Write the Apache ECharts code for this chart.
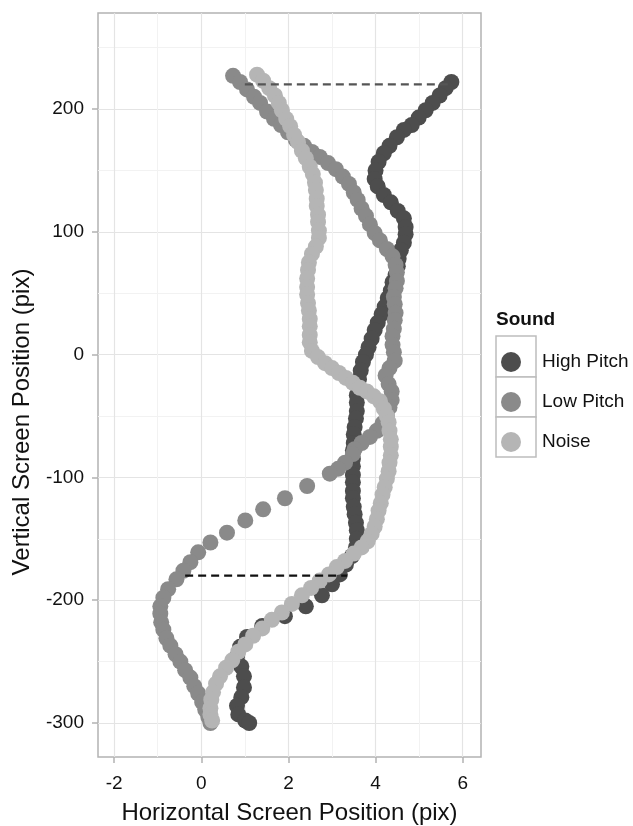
<!DOCTYPE html>
<html>
<head>
<meta charset="utf-8">
<script src="https://cdn.jsdelivr.net/npm/echarts@6/dist/echarts.min.js"></script>
<style>
  html, body { margin: 0; padding: 0; background: #fff; }
  #chart { width: 633px; height: 826px; }
</style>
</head>
<body>
<div id="chart"></div>
<script>
// trajectories: [horizontal, vertical]
const highPitch = [
  [5.74,222],[5.61,217],[5.47,211],[5.31,205],[5.15,199],[4.99,193],[4.83,187],[4.65,183],
  [4.49,177],[4.32,170],[4.19,164],[4.07,157],[4.00,150],[3.98,143],[4.05,137],[4.19,130],
  [4.35,124],[4.51,117],[4.65,111],[4.69,104],[4.69,98],[4.65,91],[4.58,85],[4.53,78],
  [4.51,72],[4.46,65],[4.39,59],[4.35,52],[4.28,46],[4.21,39],[4.14,33],[4.05,26],
  [3.98,20],[3.91,13],[3.84,6],[3.78,0],[3.71,-6],[3.66,-13],[3.62,-20],[3.59,-26],
  [3.57,-33],[3.57,-39],[3.57,-46],[3.55,-52],[3.52,-59],[3.50,-65],[3.50,-72],[3.48,-78],
  [3.48,-85],[3.48,-91],[3.48,-98],[3.48,-104],[3.48,-111],[3.48,-117],[3.50,-124],[3.52,-130],
  [3.55,-137],[3.57,-143],[3.57,-150],[3.55,-157],[3.46,-164],[3.32,-171],[3.18,-179],[3.00,-187],
  [2.77,-196],[2.40,-205],[1.92,-213],[1.40,-221],[1.05,-230],[0.89,-238],[0.82,-246],[0.92,-254],
  [0.98,-262],[0.98,-271],[0.92,-279],[0.82,-286],[0.85,-293],[1.01,-298],[1.10,-300]
];
const lowPitch = [
  [0.73,227],[0.89,222],[1.05,216],[1.21,210],[1.35,205],[1.51,198],[1.67,192],[1.83,187],
  [1.99,181],[2.17,175],[2.36,170],[2.54,165],[2.72,161],[2.91,156],[3.09,151],[3.25,145],
  [3.39,139],[3.50,132],[3.59,126],[3.68,119],[3.78,113],[3.87,106],[3.98,99],[4.10,93],
  [4.26,86],[4.39,80],[4.46,73],[4.49,67],[4.49,60],[4.46,54],[4.42,47],[4.44,41],
  [4.46,34],[4.44,28],[4.42,21],[4.39,15],[4.39,8],[4.42,2],[4.44,-5],[4.32,-11],
  [4.23,-17],[4.30,-24],[4.37,-30],[4.37,-37],[4.32,-43],[4.26,-50],[4.16,-56],[4.03,-62],
  [3.87,-67],[3.68,-72],[3.52,-77],[3.48,-81],[3.30,-88],[3.14,-93],[2.95,-97],[2.43,-107],
  [1.92,-117],[1.42,-126],[1.01,-135],[0.59,-145],[0.21,-153],[-0.07,-161],[-0.25,-169],[-0.41,-176],
  [-0.57,-183],[-0.76,-191],[-0.87,-198],[-0.94,-205],[-0.94,-211],[-0.92,-218],[-0.87,-224],[-0.80,-231],
  [-0.71,-237],[-0.59,-244],[-0.48,-250],[-0.37,-257],[-0.25,-263],[-0.16,-270],[-0.07,-276],[0.02,-283],
  [0.09,-289],[0.16,-295],[0.21,-300]
];
const noise = [
  [1.28,228],[1.42,223],[1.56,217],[1.69,211],[1.78,205],[1.85,199],[1.95,192],[2.04,186],
  [2.13,179],[2.22,173],[2.31,166],[2.40,160],[2.49,153],[2.56,147],[2.61,140],[2.63,134],
  [2.65,127],[2.65,121],[2.68,114],[2.68,108],[2.70,101],[2.70,95],[2.63,88],[2.54,82],
  [2.47,75],[2.45,69],[2.43,62],[2.43,55],[2.43,49],[2.45,42],[2.47,36],[2.49,29],
  [2.49,23],[2.49,16],[2.49,10],[2.54,3],[2.68,-2],[2.84,-7],[3.00,-11],[3.16,-15],
  [3.32,-19],[3.48,-23],[3.64,-27],[3.80,-30],[3.96,-34],[4.10,-38],[4.19,-44],[4.26,-50],
  [4.30,-55],[4.32,-62],[4.35,-69],[4.35,-75],[4.35,-82],[4.32,-88],[4.30,-95],[4.26,-101],
  [4.21,-108],[4.16,-114],[4.12,-121],[4.07,-127],[4.03,-134],[3.98,-140],[3.91,-146],[3.82,-152],
  [3.68,-157],[3.50,-162],[3.30,-168],[3.11,-173],[2.93,-179],[2.72,-184],[2.52,-190],[2.31,-196],
  [2.08,-203],[1.85,-210],[1.62,-216],[1.40,-223],[1.19,-229],[1.01,-236],[0.85,-242],[0.71,-249],
  [0.57,-255],[0.43,-262],[0.34,-268],[0.27,-275],[0.23,-281],[0.21,-288],[0.21,-293],[0.25,-298]
];

// dashed guides
const topGuide = [[1.0,220],[5.75,220]];
const bottomGuide = [[-0.37,-180],[3.35,-180]];

const xTicks = [-2, 0, 2, 4, 6];
const xMinor = [-1, 1, 3, 5];
const yTicks = [-300, -200, -100, 0, 100, 200];
const yMinor = [-250, -150, -50, 50, 150, 250];
const soundNames = ['High Pitch', 'Low Pitch', 'Noise'];

const FONT = '"Liberation Sans", Arial, sans-serif';
const COLORS = { 'High Pitch': '#4d4d4d', 'Low Pitch': '#8a8a8a', 'Noise': '#b5b5b5' };
const X_RANGE = [-2.37, 6.42];
const Y_RANGE = [-327.7, 278.2];

const chart = echarts.init(document.getElementById('chart'), null, { renderer: 'canvas' });

const majorX = {
  type: 'value', min: X_RANGE[0], max: X_RANGE[1], position: 'bottom',
  name: 'Horizontal Screen Position (pix)', nameLocation: 'middle', nameGap: 44,
  nameTextStyle: { fontSize: 24, color: '#111', fontFamily: FONT },
  axisLine: { show: false, onZero: false },
  axisTick: { show: true, length: 6, customValues: xTicks, lineStyle: { color: '#b3b3b3', width: 1.5 } },
  axisLabel: { customValues: xTicks, fontSize: 19, color: '#111', fontFamily: FONT, margin: 17 },
  splitLine: { show: true, lineStyle: { color: '#e4e4e4', width: 1.2 } }
};
const minorX = {
  type: 'value', min: X_RANGE[0], max: X_RANGE[1], position: 'bottom',
  axisLine: { show: false, onZero: false },
  axisTick: { show: false, customValues: xMinor },
  axisLabel: { show: false, customValues: xMinor },
  splitLine: { show: true, lineStyle: { color: '#f2f2f2', width: 1 } }
};
const majorY = {
  type: 'value', min: Y_RANGE[0], max: Y_RANGE[1], position: 'left',
  axisLine: { show: false, onZero: false },
  axisTick: { show: true, length: 6, customValues: yTicks, lineStyle: { color: '#b3b3b3', width: 1.5 } },
  axisLabel: { customValues: yTicks, fontSize: 19, color: '#111', fontFamily: FONT, margin: 14 },
  splitLine: { show: true, lineStyle: { color: '#e4e4e4', width: 1.2 } }
};
const minorY = {
  type: 'value', min: Y_RANGE[0], max: Y_RANGE[1], position: 'left',
  axisLine: { show: false, onZero: false },
  axisTick: { show: false, customValues: yMinor },
  axisLabel: { show: false, customValues: yMinor },
  splitLine: { show: true, lineStyle: { color: '#f2f2f2', width: 1 } }
};

const scatter = (name, data) => ({
  name, type: 'scatter', data, symbol: 'circle', symbolSize: 16,
  itemStyle: { color: COLORS[name], opacity: 1 }, z: 3
});
const guide = (data, color) => ({
  type: 'line', data, symbol: 'none', silent: true, z: 5,
  lineStyle: { color, width: 2.2, type: [8, 5] }
});

const option = {
  animation: false,
  backgroundColor: '#fff',
  grid: {
    left: 98, top: 13, width: 383, height: 744, show: true,
    outerBoundsMode: 'none', containLabel: false,
    borderColor: '#b3b3b3', borderWidth: 1.5, backgroundColor: 'transparent'
  },
  xAxis: [majorX, minorX],
  yAxis: [majorY, minorY],
  legend: {
    data: soundNames, orient: 'vertical', left: 496, top: 347,
    itemWidth: 40, itemHeight: 20, itemGap: 20, icon: 'circle',
    textStyle: { fontSize: 19, color: '#111', fontFamily: FONT, padding: [0, 0, 0, 6] },
    selectedMode: false
  },
  graphic: [
    { type: 'text', left: 496, top: 310, style: { text: 'Sound', fontSize: 19, fontWeight: 'bold', fill: '#111', fontFamily: FONT } },
    { type: 'rect', shape: { x: 496, y: 336, width: 40, height: 41 }, style: { fill: '#fff', stroke: '#bdbdbd', lineWidth: 1.5 } },
    { type: 'rect', shape: { x: 496, y: 377, width: 40, height: 40 }, style: { fill: '#fff', stroke: '#bdbdbd', lineWidth: 1.5 } },
    { type: 'rect', shape: { x: 496, y: 417, width: 40, height: 40 }, style: { fill: '#fff', stroke: '#bdbdbd', lineWidth: 1.5 } },
    {
      type: 'text', x: 22, y: 422, rotation: Math.PI / 2,
      style: { text: 'Vertical Screen Position (pix)', fontSize: 24, fill: '#111', fontFamily: FONT, align: 'center', verticalAlign: 'middle' }
    }
  ],
  series: [
    scatter('High Pitch', highPitch),
    scatter('Low Pitch', lowPitch),
    scatter('Noise', noise),
    guide(topGuide, '#555555'),
    guide(bottomGuide, '#111111')
  ]
};

chart.setOption(option);
</script>
</body>
</html>
